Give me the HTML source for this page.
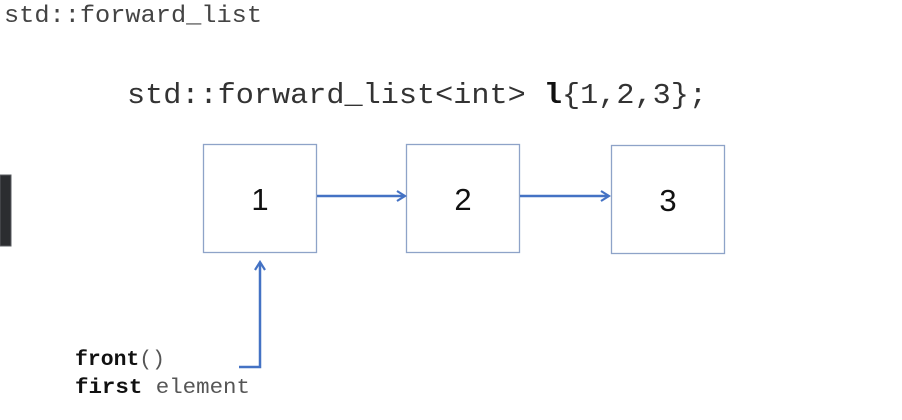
<!DOCTYPE html>
<html><head><meta charset="utf-8"><style>
html,body{margin:0;padding:0;background:#fff;width:902px;height:420px;overflow:hidden}
</style></head><body>
<svg width="902" height="420" viewBox="0 0 902 420" xmlns="http://www.w3.org/2000/svg">
<defs>
<marker id="ah" markerWidth="12" markerHeight="12" refX="10" refY="6" orient="auto" markerUnits="userSpaceOnUse">
<path d="M2,1 L10,6 L2,11" fill="none" stroke="#4472c4" stroke-width="2.2"/>
</marker>
</defs>
<text x="4" y="22" font-family="Liberation Mono, monospace" font-size="24" fill="#444" textLength="258" lengthAdjust="spacingAndGlyphs">std::forward_list</text>
<rect x="0" y="175" width="11" height="71" fill="#2b2d30" stroke="#5a5c60" stroke-width="1"/>
<text x="127" y="103" font-family="Liberation Mono, monospace" font-size="29" fill="#333" textLength="580" lengthAdjust="spacingAndGlyphs">std::forward_list&lt;int&gt; <tspan font-weight="bold" fill="#111">l</tspan>{1,2,3};</text>
<g fill="#fff" stroke="#8ea3c8" stroke-width="1.3">
<rect x="203.5" y="144.5" width="113" height="108"/>
<rect x="406.5" y="144.5" width="113" height="108"/>
<rect x="611.5" y="145.5" width="113" height="108"/>
</g>
<g font-family="Liberation Sans, sans-serif" font-size="31" fill="#111" text-anchor="middle">
<text x="260" y="210">1</text>
<text x="463" y="210">2</text>
<text x="668" y="211">3</text>
</g>
<g stroke="#4472c4" stroke-width="2.5" fill="none">
<line x1="317" y1="196" x2="405" y2="196" marker-end="url(#ah)"/>
<line x1="520" y1="196" x2="609" y2="196" marker-end="url(#ah)"/>
<path d="M239,367 H260 V262" marker-end="url(#ah)"/>
</g>
<g font-family="Liberation Mono, monospace" font-size="21">
<text x="75" y="365" fill="#111" textLength="90" lengthAdjust="spacingAndGlyphs"><tspan font-weight="bold">front</tspan><tspan fill="#555">()</tspan></text>
<text x="75" y="393" fill="#111" textLength="175" lengthAdjust="spacingAndGlyphs"><tspan font-weight="bold">first</tspan><tspan fill="#555"> element</tspan></text>
</g>
</svg>
</body></html>
